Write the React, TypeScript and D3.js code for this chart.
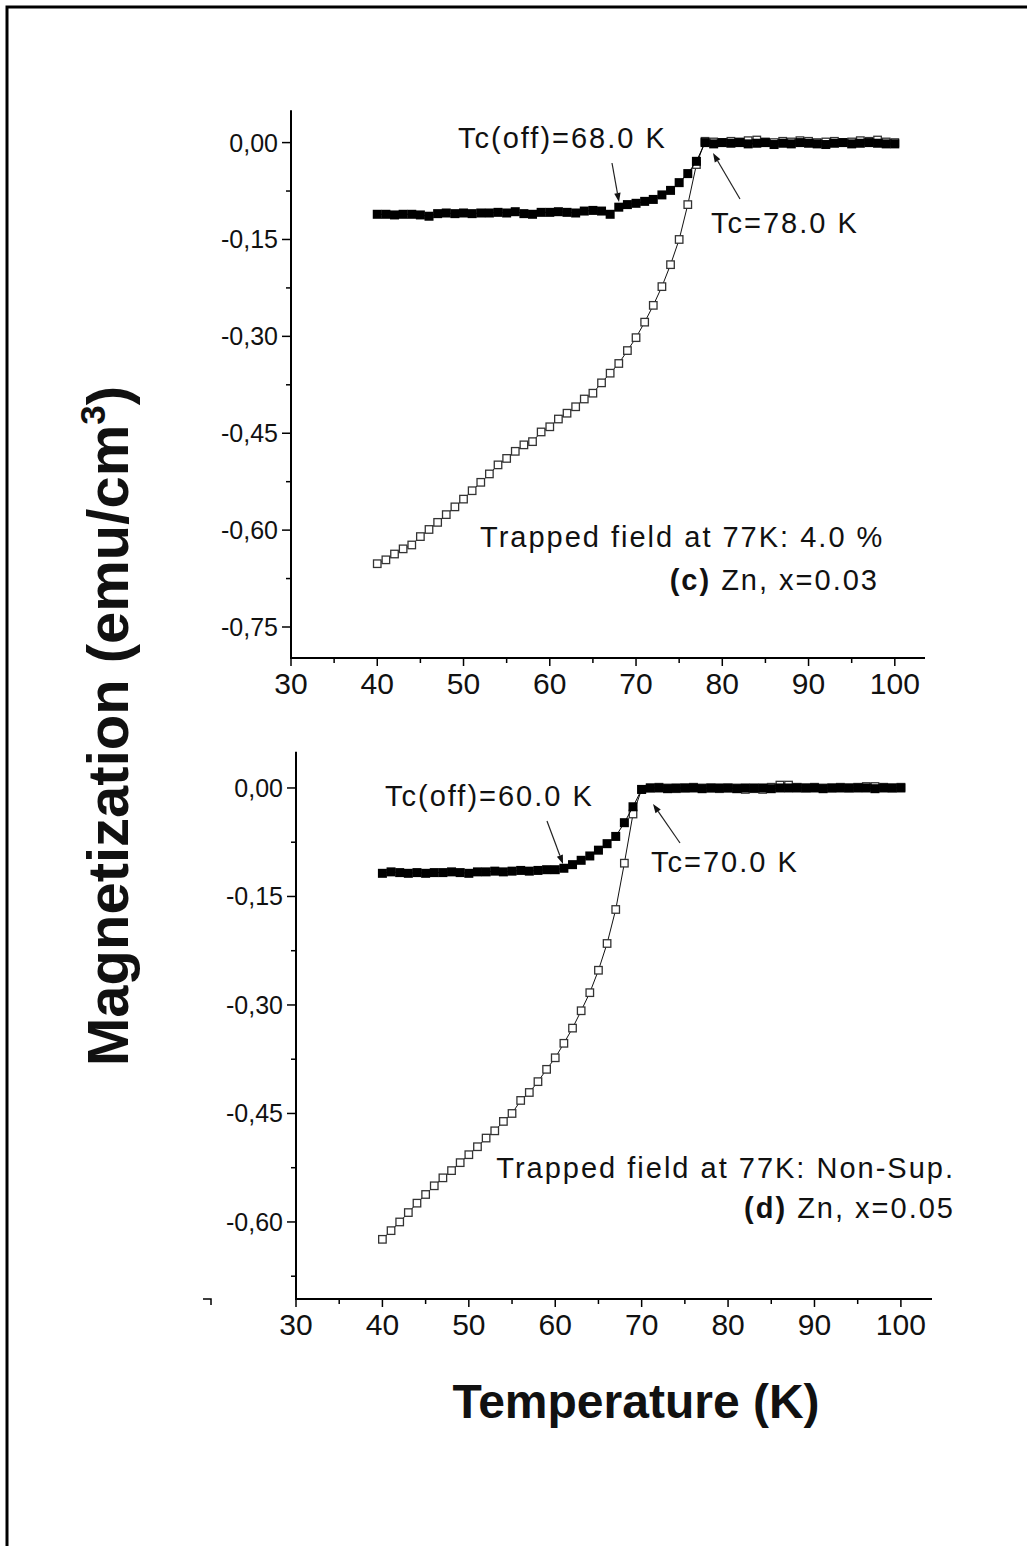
import React from "react";
import * as d3 from "d3";

const W = 1027;
const H = 1546;

// Temperature grid (K)
const temps = [
  40, 41, 42, 43, 44, 45, 46, 47, 48, 49, 50, 51, 52, 53, 54, 55, 56, 57, 58, 59,
  60, 61, 62, 63, 64, 65, 66, 67, 68, 69, 70, 71, 72, 73, 74, 75, 76, 77, 78, 79,
  80, 81, 82, 83, 84, 85, 86, 87, 88, 89, 90, 91, 92, 93, 94, 95, 96, 97, 98, 99, 100,
];

// Panel (c) Zn x=0.03 : field-cooled (closed squares)
const fcC = [
  -0.111, -0.111, -0.112, -0.111, -0.111, -0.112, -0.114, -0.110, -0.109, -0.110,
  -0.109, -0.110, -0.109, -0.109, -0.108, -0.109, -0.107, -0.110, -0.111, -0.108,
  -0.108, -0.107, -0.108, -0.109, -0.106, -0.105, -0.106, -0.111, -0.100, -0.096,
  -0.094, -0.091, -0.088, -0.081, -0.074, -0.062, -0.048, -0.029, 0.000, -0.002,
  0.000, -0.001, 0.000, -0.002, -0.001, 0.000, -0.003, -0.001, -0.002, 0.000,
  -0.001, -0.002, -0.003, -0.001, 0.000, -0.002, -0.001, 0.000, -0.001, -0.002, -0.002,
];
// Panel (c) zero-field-cooled (open squares)
const zfcC = [
  -0.652, -0.646, -0.637, -0.629, -0.623, -0.610, -0.599, -0.588, -0.576, -0.564,
  -0.552, -0.539, -0.526, -0.513, -0.499, -0.489, -0.478, -0.468, -0.463, -0.448,
  -0.440, -0.428, -0.419, -0.409, -0.397, -0.388, -0.372, -0.357, -0.342, -0.322,
  -0.302, -0.278, -0.252, -0.223, -0.189, -0.150, -0.096, -0.034, 0.002, 0.001,
  0.000, 0.002, 0.001, 0.003, 0.004, 0.001, 0.000, 0.002, 0.001, 0.003,
  0.002, 0.000, 0.001, 0.002, 0.000, 0.001, 0.003, 0.002, 0.004, 0.001, 0.000,
];

// Panel (d) Zn x=0.05 : field-cooled (closed squares)
const fcD = [
  -0.118, -0.116, -0.117, -0.118, -0.117, -0.118, -0.117, -0.117, -0.116, -0.117,
  -0.118, -0.116, -0.116, -0.115, -0.116, -0.115, -0.114, -0.115, -0.114, -0.113,
  -0.113, -0.111, -0.106, -0.100, -0.094, -0.086, -0.077, -0.067, -0.048, -0.026,
  -0.002, 0.000, 0.000, -0.001, 0.000, 0.000, 0.000, -0.001, 0.000, 0.000,
  0.000, -0.001, 0.000, 0.000, 0.000, -0.001, 0.000, 0.000, 0.000, 0.000,
  0.000, -0.001, 0.000, 0.000, 0.000, 0.000, 0.000, -0.001, 0.000, 0.000, 0.000,
];
// Panel (d) zero-field-cooled (open squares)
const zfcD = [
  -0.624, -0.612, -0.600, -0.587, -0.574, -0.562, -0.550, -0.539, -0.529, -0.518,
  -0.507, -0.496, -0.484, -0.474, -0.461, -0.450, -0.432, -0.421, -0.406, -0.389,
  -0.373, -0.353, -0.332, -0.308, -0.283, -0.252, -0.215, -0.168, -0.104, -0.036,
  -0.002, 0.000, 0.001, 0.000, -0.001, 0.000, 0.001, 0.000, 0.000, -0.001,
  0.000, 0.000, -0.002, -0.001, -0.002, 0.001, 0.004, 0.004, 0.001, 0.000,
  0.001, 0.000, 0.000, 0.001, 0.000, 0.001, 0.002, 0.002, 0.001, 0.000, 0.001,
];

const xMajor = [30, 40, 50, 60, 70, 80, 90, 100];
const xMinor = [35, 45, 55, 65, 75, 85, 95];
const yMajorC = [0, -0.15, -0.3, -0.45, -0.6, -0.75];
const yMinorC = [-0.075, -0.225, -0.375, -0.525, -0.675];
const yMajorD = [0, -0.15, -0.3, -0.45, -0.6];
const yMinorD = [-0.075, -0.225, -0.375, -0.525, -0.675];

const locale = d3.formatLocale({
  decimal: ",",
  thousands: ".",
  grouping: [3],
  currency: ["", ""],
  minus: "-",
});
const fmtY = locale.format(".2f");

const FONT = "'Liberation Sans', Arial, Helvetica, sans-serif";

type PanelCfg = {
  xDomain: [number, number];
  xRange: [number, number];
  yDomain: [number, number];
  yRange: [number, number];
  yMajor: number[];
  yMinor: number[];
};

const cfgC: PanelCfg = {
  xDomain: [30, 103.5],
  xRange: [291, 925],
  yDomain: [-0.798, 0.05],
  yRange: [658, 110.3],
  yMajor: yMajorC,
  yMinor: yMinorC,
};
const cfgD: PanelCfg = {
  xDomain: [30, 103.6],
  xRange: [296, 932],
  yDomain: [-0.7065, 0.05],
  yRange: [1299, 751.8],
  yMajor: yMajorD,
  yMinor: yMinorD,
};

function Arrow({ x1, y1, x2, y2 }: { x1: number; y1: number; x2: number; y2: number }) {
  const ang = Math.atan2(y2 - y1, x2 - x1);
  const L = 9;
  const w = 3.2;
  const bx = x2 - L * Math.cos(ang);
  const by = y2 - L * Math.sin(ang);
  const px = -Math.sin(ang) * w;
  const py = Math.cos(ang) * w;
  return (
    <g>
      <line x1={x1} y1={y1} x2={bx} y2={by} stroke="#222" strokeWidth={1.2} />
      <path d={`M${x2},${y2} L${bx + px},${by + py} L${bx - px},${by - py} Z`} fill="#111" />
    </g>
  );
}

function Panel({ cfg, fc, zfc }: { cfg: PanelCfg; fc: number[]; zfc: number[] }) {
  const x = d3.scaleLinear().domain(cfg.xDomain).range(cfg.xRange);
  const y = d3.scaleLinear().domain(cfg.yDomain).range(cfg.yRange);
  const lineGen = d3
    .line<number>()
    .x((_, i) => x(temps[i]))
    .y((d) => y(d));
  const x0 = cfg.xRange[0];
  const y0 = cfg.yRange[0];
  const cs = 9;
  const os = 7.5;
  return (
    <g>
      <line x1={x0} y1={cfg.yRange[1]} x2={x0} y2={y0} stroke="#000" strokeWidth={2} />
      <line x1={x0 - 1} y1={y0} x2={cfg.xRange[1]} y2={y0} stroke="#000" strokeWidth={2} />
      {cfg.yMajor.map((v) => (
        <g key={"ym" + v}>
          <line x1={x0 - 9} x2={x0} y1={y(v)} y2={y(v)} stroke="#000" strokeWidth={1.5} />
          <text
            x={x0 - 13}
            y={y(v)}
            dy="0.36em"
            textAnchor="end"
            fontFamily={FONT}
            fontSize={25}
            fill="#111"
          >
            {fmtY(v)}
          </text>
        </g>
      ))}
      {cfg.yMinor.map((v) => (
        <line key={"yn" + v} x1={x0 - 5} x2={x0} y1={y(v)} y2={y(v)} stroke="#000" strokeWidth={1.5} />
      ))}
      {xMajor.map((t) => (
        <g key={"xm" + t}>
          <line x1={x(t)} x2={x(t)} y1={y0} y2={y0 + 8} stroke="#000" strokeWidth={1.5} />
          <text
            x={x(t)}
            y={y0 + 36}
            textAnchor="middle"
            fontFamily={FONT}
            fontSize={30}
            fill="#111"
          >
            {t}
          </text>
        </g>
      ))}
      {xMinor.map((t) => (
        <line key={"xn" + t} x1={x(t)} x2={x(t)} y1={y0} y2={y0 + 5} stroke="#000" strokeWidth={1.5} />
      ))}
      {/* zero field cooled: open squares (underneath) */}
      <path d={lineGen(zfc) || ""} fill="none" stroke="#111" strokeWidth={1} />
      {zfc.map((v, i) => (
        <rect
          key={"zfc" + i}
          x={x(temps[i]) - os / 2}
          y={y(v) - os / 2}
          width={os}
          height={os}
          fill="#fff"
          stroke="#333"
          strokeWidth={1.3}
        />
      ))}
      {/* field cooled: closed squares */}
      <path d={lineGen(fc) || ""} fill="none" stroke="#000" strokeWidth={1} />
      {fc.map((v, i) => (
        <rect
          key={"fc" + i}
          x={x(temps[i]) - cs / 2}
          y={y(v) - cs / 2}
          width={cs}
          height={cs}
          fill="#000"
        />
      ))}
    </g>
  );
}

export default function App() {
  const annot = { fontFamily: FONT, fontSize: 29, fill: "#111", letterSpacing: 2 } as const;
  return (
    <svg
      width={W}
      height={H}
      viewBox={`0 0 ${W} ${H}`}
      style={{ position: "absolute", left: 0, top: 0, background: "#fff" }}
    >
      <rect x={0} y={0} width={W} height={H} fill="#fff" />
      <rect x={7} y={7} width={1040} height={1560} fill="none" stroke="#000" strokeWidth={3} />

      <Panel cfg={cfgC} fc={fcC} zfc={zfcC} />
      <Panel cfg={cfgD} fc={fcD} zfc={zfcD} />

      <path d="M203,1299 H211 V1305" fill="none" stroke="#000" strokeWidth={1.5} />

      {/* Panel (c) annotations */}
      <text x={458} y={148} {...annot}>Tc(off)=68.0 K</text>
      <Arrow x1={612} y1={163} x2={619} y2={202} />
      <text x={711} y={233} {...annot}>Tc=78.0 K</text>
      <Arrow x1={740} y1={199} x2={713} y2={153} />
      <text x={480} y={547} {...annot}>Trapped field at 77K: 4.0 %</text>
      <text x={879} y={590} textAnchor="end" {...annot}>
        <tspan fontWeight="bold">(c)</tspan>
        <tspan> Zn, x=0.03</tspan>
      </text>

      {/* Panel (d) annotations */}
      <text x={385} y={806} {...annot}>Tc(off)=60.0 K</text>
      <Arrow x1={547} y1={821} x2={563} y2={864} />
      <text x={651} y={872} {...annot}>Tc=70.0 K</text>
      <Arrow x1={680} y1={843} x2={653} y2={804} />
      <text x={955} y={1178} textAnchor="end" {...annot}>Trapped field at 77K: Non-Sup.</text>
      <text x={955} y={1218} textAnchor="end" {...annot}>
        <tspan fontWeight="bold">(d)</tspan>
        <tspan> Zn, x=0.05</tspan>
      </text>

      {/* axis titles */}
      <text
        transform="translate(128,726) rotate(-90)"
        textAnchor="middle"
        fontFamily={FONT}
        fontWeight="bold"
        fontSize={58}
        fill="#111"
      >
        Magnetization (emu/cm
        <tspan fontSize={35} dy={-23}>3</tspan>
        <tspan dy={23}>)</tspan>
      </text>
      <text
        x={636}
        y={1418}
        textAnchor="middle"
        fontFamily={FONT}
        fontWeight="bold"
        fontSize={48}
        fill="#111"
      >
        Temperature (K)
      </text>
    </svg>
  );
}
